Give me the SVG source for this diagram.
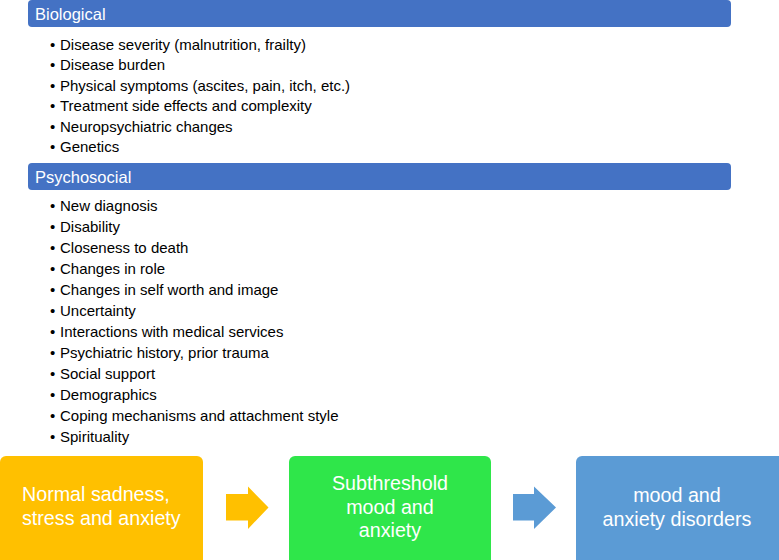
<svg xmlns="http://www.w3.org/2000/svg" width="779" height="560" viewBox="0 0 779 560">
<style>
.hdr{fill:#4472C4}
.ht{font-family:"Liberation Sans",Arial,sans-serif;font-size:16.5px;fill:#fff}
.bl{font-family:"Liberation Sans",Arial,sans-serif;font-size:15px;fill:#000}
.bx{font-family:"Liberation Sans",Arial,sans-serif;font-size:19.7px;fill:#fff}
</style>
<rect width="779" height="560" fill="#fff"/>
<g id="biological">
<rect class="hdr" x="28" y="0" width="703" height="27" rx="4"/>
<text class="ht" x="35" y="19.5">Biological</text>
<g class="bl">
<text x="50" y="49.5">•</text><text x="60" y="49.5">Disease severity (malnutrition, frailty)</text>
<text x="50" y="70">•</text><text x="60" y="70">Disease burden</text>
<text x="50" y="90.5">•</text><text x="60" y="90.5">Physical symptoms (ascites, pain, itch, etc.)</text>
<text x="50" y="111">•</text><text x="60" y="111">Treatment side effects and complexity</text>
<text x="50" y="131.5">•</text><text x="60" y="131.5">Neuropsychiatric changes</text>
<text x="50" y="152">•</text><text x="60" y="152">Genetics</text>
</g>
</g>
<g id="psychosocial">
<rect class="hdr" x="28" y="163" width="703" height="27" rx="4"/>
<text class="ht" x="35" y="182.5">Psychosocial</text>
<g class="bl">
<text x="50" y="211">•</text><text x="60" y="211">New diagnosis</text>
<text x="50" y="232">•</text><text x="60" y="232">Disability</text>
<text x="50" y="253">•</text><text x="60" y="253">Closeness to death</text>
<text x="50" y="274">•</text><text x="60" y="274">Changes in role</text>
<text x="50" y="295">•</text><text x="60" y="295">Changes in self worth and image</text>
<text x="50" y="316">•</text><text x="60" y="316">Uncertainty</text>
<text x="50" y="337">•</text><text x="60" y="337">Interactions with medical services</text>
<text x="50" y="358">•</text><text x="60" y="358">Psychiatric history, prior trauma</text>
<text x="50" y="379">•</text><text x="60" y="379">Social support</text>
<text x="50" y="400">•</text><text x="60" y="400">Demographics</text>
<text x="50" y="421">•</text><text x="60" y="421">Coping mechanisms and attachment style</text>
<text x="50" y="442">•</text><text x="60" y="442">Spirituality</text>
</g>
</g>
<g id="normal">
<rect x="0" y="456" width="203" height="110" rx="6" fill="#FFC000"/>
<text class="bx" x="22" y="501">Normal sadness,</text>
<text class="bx" x="22" y="525">stress and anxiety</text>
</g>
<g id="subthreshold">
<rect x="289" y="456" width="202" height="110" rx="6" fill="#2FE64A"/>
<text class="bx" x="390" y="490" text-anchor="middle">Subthreshold</text>
<text class="bx" x="390" y="513.5" text-anchor="middle">mood and</text>
<text class="bx" x="390" y="537" text-anchor="middle">anxiety</text>
</g>
<g id="disorders">
<rect x="576" y="456" width="210" height="110" rx="6" fill="#5B9BD5"/>
<text class="bx" x="677" y="502" text-anchor="middle">mood and</text>
<text class="bx" x="677" y="526" text-anchor="middle">anxiety disorders</text>
</g>
<g id="connectors">
<polygon points="226,494 248,494 248,486.5 268.5,507.5 248,529 248,520.5 226,520.5" fill="#FFC000"/>
<polygon points="513,494 534,494 534,486.5 556,507.5 534,529 534,520.5 513,520.5" fill="#5B9BD5"/>
</g>
</svg>
